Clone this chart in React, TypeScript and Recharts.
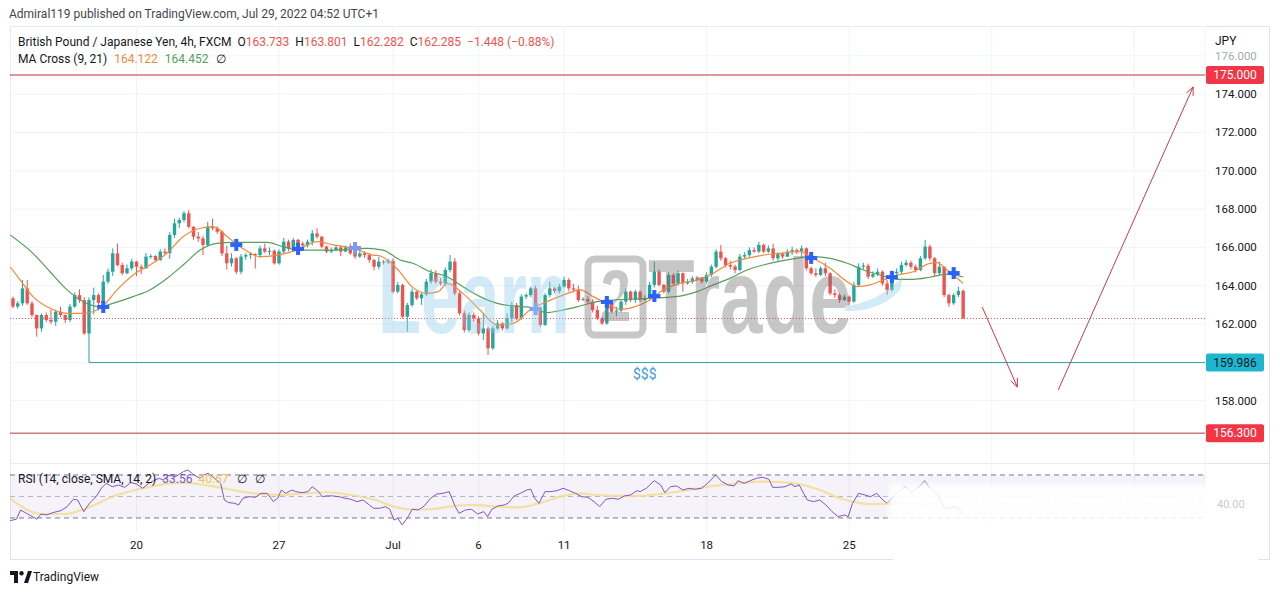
import { ComposedChart, Bar, Line, Scatter, XAxis, YAxis, CartesianGrid, ReferenceLine, ReferenceArea } from 'recharts';

const FONT = "Roboto, 'Liberation Sans', Arial, sans-serif";

// GBP/JPY 4h candles, one per slot (open = previous close)
const firstOpen = 163.34;
const closes = [
	162.91, 163.08, 163.86, 163.08, 162.47, 161.77, 162.47, 162.21, 162.12, 162.64,
	162.47, 162.21, 162.91, 163.51, 163.25, 161.51, 163.25, 163.51, 163.1, 164.21,
	164.73, 165.69, 165.08, 164.65, 164.91, 165.26, 164.99, 164.9, 165.52, 165.55,
	165.34, 165.78, 165.7, 166.65, 167.26, 167.43, 167.78, 167.08, 166.56, 166.47,
	166.13, 167.08, 167.0, 166.82, 165.69, 165.17, 165.43, 164.73, 165.52, 165.6,
	165.65, 165.6, 165.95, 165.78, 165.82, 165.17, 165.78, 166.3, 165.95, 166.39,
	166.2, 166.1, 166.3, 166.73, 166.56, 166.04, 165.78, 165.85, 166.0, 165.78,
	166.0, 165.69, 165.52, 165.69, 165.6, 165.34, 164.99, 165.26, 165.22, 165.3,
	163.69, 164.04, 162.38, 162.99, 163.69, 163.34, 163.55, 164.21, 164.65, 164.21,
	164.12, 164.82, 165.26, 163.6, 162.56, 161.69, 162.47, 162.3, 161.51, 161.77,
	160.73, 161.77, 162.03, 161.77, 162.3, 162.99, 162.3, 163.43, 163.51, 163.86,
	162.82, 161.95, 163.51, 163.86, 163.72, 163.95, 164.3, 163.86, 163.8, 163.25,
	163.3, 163.17, 162.73, 162.3, 162.03, 163.17, 162.64, 162.7, 163.17, 163.69,
	163.25, 163.69, 163.25, 163.35, 164.04, 164.73, 164.04, 163.69, 164.56, 164.12,
	164.65, 164.12, 164.2, 164.38, 164.35, 164.21, 164.56, 164.99, 165.78, 165.43,
	165.08, 165.0, 164.82, 165.52, 165.6, 165.86, 165.78, 166.13, 165.78, 165.95,
	165.43, 165.65, 165.52, 165.78, 165.86, 165.8, 165.95, 164.91, 164.65, 164.56,
	164.91, 164.65, 163.6, 163.51, 163.25, 163.43, 163.17, 164.04, 164.99, 165.05,
	164.47, 164.6, 164.73, 164.12, 163.78, 164.65, 164.73, 165.08, 165.2, 164.99,
	164.82, 165.43, 166.04, 165.43, 164.65, 164.99, 163.51, 163.08, 163.51, 163.73,
	162.285,
];
const highs = [
	163.43, 163.2, 164.3, 164.3, 163.2, 162.5, 162.55, 162.6, 162.75, 162.75,
	162.9, 162.5, 163.05, 163.65, 163.81, 163.4, 163.4, 163.9, 163.6, 164.56,
	164.9, 165.95, 166.21, 165.2, 165.1, 165.4, 165.3, 165.1, 165.7, 165.65,
	165.6, 165.9, 165.95, 166.8, 167.5, 167.55, 167.9, 167.95, 167.1, 166.8,
	166.6, 167.34, 167.5, 167.1, 166.9, 166.1, 165.7, 165.5, 165.65, 165.7,
	165.75, 165.7, 166.1, 166.2, 166.0, 165.9, 165.9, 166.5, 166.4, 166.5,
	166.45, 166.3, 166.4, 166.91, 167.0, 166.6, 166.1, 166.0, 166.1, 166.1,
	166.1, 166.2, 165.75, 165.8, 165.8, 165.7, 165.4, 165.5, 165.35, 165.4,
	165.43, 164.2, 164.1, 163.1, 163.85, 163.75, 163.65, 164.35, 164.85, 164.8,
	164.4, 164.95, 165.6, 165.45, 163.7, 162.7, 162.6, 162.6, 162.4, 162.56,
	161.85, 161.9, 162.2, 162.1, 162.56, 163.15, 163.1, 163.55, 163.6, 163.95,
	164.0, 162.9, 163.6, 164.2, 163.95, 164.1, 164.47, 164.4, 164.1, 164.0,
	163.4, 163.45, 163.3, 162.95, 162.4, 163.3, 163.2, 162.9, 163.3, 163.85,
	163.75, 163.8, 163.75, 163.5, 164.2, 165.26, 164.85, 164.1, 164.7, 164.65,
	164.8, 164.7, 164.35, 164.5, 164.5, 164.45, 164.7, 165.1, 165.9, 166.13,
	165.5, 165.3, 165.1, 165.65, 165.75, 166.0, 166.0, 166.3, 166.2, 166.1,
	166.2, 165.75, 165.75, 165.9, 166.04, 165.95, 166.1, 166.0, 165.0, 164.9,
	165.0, 165.2, 164.7, 163.8, 163.6, 163.55, 163.5, 164.2, 165.17, 165.2,
	165.15, 164.75, 164.9, 164.8, 164.3, 164.8, 164.9, 165.25, 165.35, 165.3,
	165.1, 165.55, 166.39, 166.15, 165.5, 165.26, 165.0, 163.6, 163.6, 163.95,
	163.801,
];
const lows = [
	162.82, 162.8, 162.95, 163.0, 162.35, 161.34, 161.6, 162.1, 162.0, 161.9,
	162.35, 162.05, 162.1, 162.85, 163.1, 161.43, 161.5, 162.5, 162.7, 162.9,
	164.1, 164.5, 165.0, 164.55, 164.6, 164.8, 164.5, 164.6, 164.9, 165.4,
	165.25, 165.3, 165.6, 165.4, 166.5, 167.0, 167.3, 167.0, 166.4, 166.3,
	165.6, 166.05, 166.9, 166.7, 165.55, 164.85, 165.0, 164.6, 164.6, 165.35,
	165.4, 164.9, 165.45, 165.7, 165.6, 165.1, 165.1, 165.7, 165.8, 165.85,
	166.0, 165.95, 166.0, 166.1, 166.45, 165.95, 165.7, 165.7, 165.8, 165.55,
	165.75, 165.6, 165.4, 165.45, 165.45, 165.2, 164.8, 164.85, 165.1, 165.15,
	163.6, 163.6, 162.3, 161.6, 162.9, 163.25, 163.0, 163.45, 164.1, 164.1,
	164.0, 164.0, 164.7, 163.5, 162.45, 161.55, 161.6, 162.1, 161.4, 161.16,
	160.38, 160.65, 161.7, 161.65, 161.7, 162.1, 162.2, 162.2, 163.3, 163.4,
	162.7, 161.85, 161.9, 163.4, 163.6, 163.6, 163.9, 163.7, 163.65, 163.15,
	163.2, 163.05, 162.6, 162.2, 161.95, 161.95, 162.55, 162.4, 162.6, 163.0,
	163.15, 163.1, 163.15, 163.2, 163.3, 163.9, 163.95, 163.6, 163.6, 164.0,
	164.0, 163.69, 164.05, 164.1, 164.25, 164.1, 164.1, 164.45, 164.9, 165.3,
	164.95, 164.85, 164.65, 164.75, 165.4, 165.5, 165.7, 165.7, 165.7, 165.7,
	165.3, 165.3, 165.4, 165.5, 165.6, 165.65, 165.5, 164.8, 164.55, 164.45,
	164.5, 164.5, 163.5, 163.35, 163.1, 163.2, 163.0, 163.1, 163.95, 164.85,
	164.35, 164.4, 164.5, 164.0, 163.51, 163.7, 164.55, 164.6, 165.0, 164.85,
	164.7, 164.75, 165.35, 165.3, 164.5, 164.55, 163.4, 162.9, 163.0, 163.4,
	162.282,
];

// MA Cross (9, 21) as [slot, value]
const ma9Points = [
	[-0.6, 164.99], [1.5, 164.3], [4.2, 163.43], [7.8, 162.82], [11.4, 162.56], [14.7, 162.56], [16.8, 162.64],
	[18.9, 162.94], [21.9, 163.78], [25.3, 164.56], [28.8, 165.08], [32.4, 165.69], [35.8, 166.56], [39.4, 167.0],
	[42.1, 167.08], [45.1, 166.56], [47.8, 166.04], [52, 165.52], [55.6, 165.6], [59.8, 165.86], [64, 166.3],
	[67.4, 166.13], [71.6, 165.95], [75.8, 165.6], [77.3, 165.55], [80.8, 164.9], [84.2, 163.9], [87.2, 163.6],
	[89.5, 163.69], [91.4, 164.12], [94.7, 163.6], [98.3, 162.73], [101.9, 161.95], [105.3, 162.03], [108.8, 162.73],
	[112.4, 163.17], [115.8, 163.51], [119.4, 163.78], [122.1, 163.43], [125, 163.08], [127.8, 162.77], [130.5, 162.87],
	[133.5, 163.17], [136.8, 163.78], [140.4, 164.12], [144, 164.3], [147.4, 164.65], [150.9, 165.17], [154.5, 165.43],
	[157.9, 165.6], [161.5, 165.69], [165.7, 165.78], [168.4, 165.43], [172, 164.91], [175.6, 164.21], [177.7, 163.95],
	[180.4, 164.04], [183.2, 164.3], [186.1, 164.56], [189.5, 164.73], [193, 165.17], [194.5, 165.2], [196.6, 164.82],
	[200, 164.122],
];
const ma21Points = [
	[-0.6, 166.65], [4.2, 165.69], [7.8, 164.73], [11.4, 163.78], [14.7, 163.17], [18.3, 162.9], [21, 163.08],
	[25.3, 163.43], [28.8, 163.78], [32.4, 164.38], [35.8, 165.08], [39.4, 165.86], [42.9, 166.21], [46.3, 166.26],
	[53.5, 166.26], [56.8, 166.04], [60.4, 165.86], [67.4, 165.86], [74.5, 165.95], [77.9, 165.86], [81.5, 165.34],
	[84.2, 165.17], [87.8, 164.73], [91.4, 164.47], [94.7, 163.95], [98.3, 163.43], [101.9, 163.08], [105.3, 162.94],
	[108.8, 162.87], [112.4, 162.6], [115.8, 162.73], [119.4, 162.94], [122.9, 163.17], [126.3, 163.25], [133.5, 163.34],
	[140.4, 163.46], [144, 163.69], [147.4, 164.04], [150.9, 164.38], [154.5, 164.82], [157.9, 165.08], [161.5, 165.28],
	[168.4, 165.52], [172, 165.43], [175.6, 165.17], [179, 164.82], [182.5, 164.56], [186.1, 164.33], [189.5, 164.33],
	[193, 164.44], [196.6, 164.6], [200, 164.452],
];
const crossPoints = [
	[19, 162.89], [47, 166.13], [60, 165.92], [72, 165.97], [110, 162.78],
	[125, 163.15], [135, 163.46], [168, 165.45], [185, 164.45], [198, 164.66],
];
const fadedCrosses = [72, 110];

// RSI (14) and its SMA (14)
const rsiPoints = [
	[-0.6, 27.5], [0.7, 28.8], [1.6, 37.4], [2.85, 34.3], [4.1, 31.2], [5, 28.8], [5.9, 33.7], [7.1, 32.8], [8.4, 35],
	[10.1, 36.8], [11.4, 40.5], [12.7, 47.4], [13.6, 46.7], [14.9, 35.9], [16.2, 44.3], [17.5, 49.8], [18.6, 57.6],
	[19.6, 62.2], [20.9, 59.1], [22.2, 60.7], [23.5, 58.5], [24.8, 62.9], [26, 61.6], [27.3, 57.6], [28.6, 62.2],
	[29.9, 65.3], [30.8, 66.9], [31.6, 65.3], [32.9, 70], [34.2, 68.4], [35.1, 70.9], [35.9, 73.1], [36.8, 74.7],
	[38.1, 70], [39.4, 66.9], [40.2, 70], [41.1, 71.6], [42.4, 66.9], [43.7, 62.2], [44.5, 46.7], [45.4, 44.3],
	[46.7, 43.6], [47.5, 42.1], [48.4, 48.3], [49.7, 49.8], [51, 49.2], [52.2, 52.9], [53.5, 52.9], [54.8, 45.2],
	[55.7, 48.3], [56.5, 56], [57.4, 52.9], [58.7, 56], [59.5, 54.5], [60.8, 53.6], [62.1, 54.5], [63, 59.1],
	[64.3, 54.5], [65.1, 49.8], [66, 50.5], [67.3, 50.5], [68.6, 49.8], [69.9, 48.3], [71.1, 47.4], [72.4, 45.2],
	[73.7, 46.7], [75, 42.1], [75.9, 39], [77.2, 39], [78.4, 40.5], [79.3, 38.1], [80.2, 28.1], [81, 29.7],
	[81.9, 23.5], [83.2, 31.2], [84, 38.1], [85.3, 37.4], [86.6, 41.2], [87.9, 48.3], [89.2, 52.3], [90.5, 52.9],
	[91.8, 54.5], [93.1, 40.5], [93.9, 34.3], [95.2, 37.4], [96.5, 38.1], [97.8, 33.7], [99.1, 35.9], [99.9, 31.2],
	[100.8, 38.1], [102.1, 41.2], [103.4, 42.1], [104.2, 43.6], [105.5, 50.5], [106.8, 52.9], [108.1, 56], [109, 56.7],
	[109.8, 48.3], [110.7, 43.6], [112, 54.5], [113.2, 54.5], [114.5, 55.4], [115.8, 57.6], [117.1, 55.4], [118.4, 52.9],
	[119.7, 49.8], [121, 49.2], [122.3, 45.2], [123.5, 40.5], [124.8, 47.4], [126.1, 48.3], [127.4, 47.4], [128.7, 50.5],
	[130, 51.4], [131.3, 55.4], [132, 54.5], [133.3, 57.6], [135, 64.7], [136.3, 60.7], [137.2, 53.6], [138.4, 59.1],
	[139.7, 59.8], [141, 56], [142.3, 57.6], [143.6, 56.7], [144.9, 57.6], [146.2, 62.2], [147.9, 70], [149.2, 63.8],
	[150.5, 60.7], [151.8, 59.8], [152.6, 64.7], [153.9, 62.2], [155.2, 64.7], [156.5, 66.9], [157.8, 67.8], [159.1, 66],
	[159.9, 58.5], [161.2, 58.5], [162.5, 59.1], [163.8, 61.6], [164.6, 59.1], [165.5, 60.7], [166.4, 52.9], [167.2, 46.7],
	[168.5, 45.2], [169.8, 46.7], [171.1, 42.1], [172.4, 35.9], [173.7, 31.2], [175, 32.8], [175.8, 31.2], [176.7, 43.6],
	[178, 52.9], [179.3, 51.4], [180.5, 49.8], [181.8, 52.9], [183.1, 46.7], [184, 43.6], [185.3, 49.8], [186.6, 55.4],
	[187.8, 59.1], [189.1, 54.5], [190.4, 57.6], [191.9, 64.7], [193, 57.6], [194.3, 52.9], [195.1, 48.3], [196, 39],
	[197.3, 39], [198.6, 40.5], [200, 33.56],
];
const rsiSmaPoints = [
	[-0.6, 48.3], [5.9, 33.7], [11, 33.7], [16.2, 40.5], [21.3, 50.5], [26.5, 56.7], [31.6, 61.3], [35.9, 62.9],
	[40.2, 60.7], [45.4, 56.7], [50.5, 52.9], [55.7, 51.4], [60.8, 52.9], [66, 53.9], [71.1, 51.4], [76.3, 46.7],
	[79.7, 41.2], [83.2, 38.1], [87.5, 38.1], [91.8, 40.5], [96.9, 42.1], [102.1, 40.5], [106.4, 39.9], [110.7, 43.6],
	[115.8, 50.5], [119.3, 52.9], [122.7, 51.4], [126.1, 50.5], [131.3, 50.5], [137.2, 52.9], [142.3, 56], [147.5, 59.8],
	[152.6, 62.2], [157.8, 63.8], [162.9, 62.9], [166.4, 60.7], [169.8, 56], [173.2, 49.8], [176.7, 45.2], [180.1, 43],
	[183.5, 43], [187, 43], [192.1, 42], [198.6, 40.5], [200, 40.67],
];

const dateTicks = [26, 56, 80, 98, 116, 146, 176, 206, 236];
const dateLabels = ['20', '27', 'Jul', '6', '11', '18', '25', 'Aug', '8'];
const priceTicks = [156, 158, 160, 162, 164, 166, 168, 170, 172, 174, 176];
const hiddenPriceTicks = [156, 160];

const candles = closes.map((c, i) => ({
	i,
	o: i === 0 ? firstOpen : closes[i - 1],
	h: highs[i],
	l: lows[i],
	c,
}));
const toXY = (pts: number[][]) => pts.map(([i, v]) => ({ i, v }));
const ma9 = toXY(ma9Points);
const ma21 = toXY(ma21Points);
const rsi = toXY(rsiPoints);
const rsiSma = toXY(rsiSmaPoints);
const crosses = crossPoints.map(([i, p]) => ({ i, p }));

const X_DOMAIN = [-0.63, 250.9];
const UP = '#26a69a';
const DOWN = '#ef5350';

const Candle = (props: any) => {
	const { x, y, width, height, payload } = props;
	if (!payload) return null;
	const { o, h, l, c } = payload;
	const top = Math.min(y, y + height);
	const bottom = Math.max(y, y + height);
	const k = h - l > 0 ? (bottom - top) / (h - l) : 0;
	const yO = top + (h - o) * k;
	const yC = top + (h - c) * k;
	const color = c >= o ? UP : DOWN;
	const cx = x + width / 2;
	const bw = 3.4;
	return (
		<g>
			<line x1={cx} x2={cx} y1={top} y2={bottom} stroke={color} strokeWidth={1} />
			<rect x={cx - bw / 2} y={Math.min(yO, yC)} width={bw} height={Math.max(1, Math.abs(yC - yO))} fill={color} />
		</g>
	);
};

const Cross = (props: any) => {
	const { cx, cy, payload } = props;
	const color = fadedCrosses.includes(payload.i) ? '#7f97ee' : '#2962ff';
	return (
		<g fill={color}>
			<rect x={cx - 6} y={cy - 2} width={12} height={4} />
			<rect x={cx - 2} y={cy - 6} width={4} height={12} />
		</g>
	);
};

const PriceTag = (props: any) => {
	const { viewBox, text, bg, fg } = props;
	const x = viewBox.x + viewBox.width;
	const y = viewBox.y;
	return (
		<g>
			<rect x={x + 1} y={y - 9} width={58} height={18} rx={2} fill={bg} />
			<text x={x + 30} y={y + 4} textAnchor='middle' fill={fg} fontSize={12}>
				{text}
			</text>
		</g>
	);
};

const Arrow = (props: any) => {
	const { x1, y1, x2, y2 } = props;
	const a = Math.atan2(y2 - y1, x2 - x1);
	const len = 9;
	const s = 0.42;
	const p1 = `${x2 - len * Math.cos(a - s)},${y2 - len * Math.sin(a - s)}`;
	const p2 = `${x2 - len * Math.cos(a + s)},${y2 - len * Math.sin(a + s)}`;
	return (
		<g stroke='#cc3a43' strokeWidth={1} fill='none'>
			<line x1={x1} y1={y1} x2={x2} y2={y2} />
			<polyline points={`${p1} ${x2},${y2} ${p2}`} />
		</g>
	);
};

const PriceTick = (props: any) => {
	const { x, y, payload } = props;
	if (hiddenPriceTicks.includes(payload.value)) return null;
	return (
		<text x={x} y={y} dy={4} fill={payload.value === 176 ? '#a7aab3' : '#131722'} fontSize={11.5} textAnchor='start'>
			{payload.value.toFixed(3)}
		</text>
	);
};

const txt = (style: any): any => ({ position: 'absolute', whiteSpace: 'nowrap', fontSize: 12, lineHeight: '14px', ...style });

const App = () => (
	<div style={{ position: 'absolute', left: 0, top: 0, width: 1280, height: 595, background: '#fff', fontFamily: FONT, color: '#131722', overflow: 'hidden' }}>
		<div style={txt({ left: 9, top: 7, color: '#434651' })}>Admiral119 published on TradingView.com, Jul 29, 2022 04:52 UTC+1</div>

		<div style={{ position: 'absolute', left: 10, top: 26, width: 1260, height: 534, border: '1px solid #e0e3eb', boxSizing: 'border-box' }} />
		<div style={{ position: 'absolute', left: 10, top: 463, width: 1260, height: 1, background: '#e0e3eb' }} />

		<div style={{ position: 'absolute', left: 10, top: 26 }}>
			<ComposedChart width={1258} height={438} data={candles} margin={{ top: 0, right: 0, bottom: 0, left: 0 }} style={{ fontFamily: FONT }}>
				<CartesianGrid stroke='#f0f3fa' />
				<XAxis dataKey='i' type='number' domain={X_DOMAIN} ticks={dateTicks} hide allowDataOverflow />
				<YAxis
					orientation='right'
					domain={[154.69, 177.56]}
					ticks={priceTicks}
					width={63}
					axisLine={false}
					tickLine={false}
					tickSize={0}
					tickMargin={10}
					tick={<PriceTick />}
					allowDataOverflow
				/>
				<ReferenceLine y={175} stroke='#b8333a' label={<PriceTag text='175.000' bg='#f23645' fg='#fff' />} />
				<ReferenceLine y={156.3} stroke='#b8333a' label={<PriceTag text='156.300' bg='#f23645' fg='#fff' />} />
				<ReferenceLine segment={[{ x: 16, y: 159.986 }, { x: 250.9, y: 159.986 }]} stroke='#2b9fa6' />
				<ReferenceLine segment={[{ x: 16, y: 161.58 }, { x: 16, y: 159.986 }]} stroke='#2b9fa6' />
				<ReferenceLine y={159.986} stroke='none' label={<PriceTag text='159.986' bg='#1cb7cf' fg='#131722' />} />
				<ReferenceLine y={162.285} stroke='#ef5350' strokeDasharray='1 2' />
				<Line data={ma21} dataKey='v' type='monotone' stroke='#56a05a' strokeWidth={1.2} dot={false} isAnimationActive={false} />
				<Line data={ma9} dataKey='v' type='monotone' stroke='#f08a3c' strokeWidth={1.2} dot={false} isAnimationActive={false} />
				<Bar dataKey={(d: any) => [d.l, d.h]} shape={<Candle />} barSize={4} isAnimationActive={false} />
				<Scatter data={crosses} dataKey='p' shape={<Cross />} isAnimationActive={false} />
				<ReferenceLine segment={[{ x: 204, y: 162.89 }, { x: 211.4, y: 158.71 }]} shape={<Arrow />} />
				<ReferenceLine segment={[{ x: 220, y: 158.55 }, { x: 248.4, y: 174.38 }]} shape={<Arrow />} />
			</ComposedChart>
		</div>

		<div style={{ position: 'absolute', left: 10, top: 464 }}>
			<ComposedChart width={1258} height={96} margin={{ top: 0, right: 63, bottom: 0, left: 0 }} style={{ fontFamily: FONT }}>
				<CartesianGrid stroke='#f0f3fa' horizontal={false} />
				<XAxis
					dataKey='i'
					type='number'
					domain={X_DOMAIN}
					ticks={dateTicks}
					tickFormatter={(v: number) => dateLabels[dateTicks.indexOf(v)]}
					height={27}
					axisLine={false}
					tickLine={false}
					tickSize={0}
					tickMargin={8}
					tick={{ fill: '#131722', fontSize: 11.5 }}
					allowDataOverflow
				/>
				<YAxis domain={[16, 80.2]} hide allowDataOverflow />
				<ReferenceArea y1={30} y2={70} fill='#7e57c2' fillOpacity={0.08} stroke='none' />
				<ReferenceLine y={70} stroke='#787b86' strokeDasharray='5 4' />
				<ReferenceLine y={50} stroke='#b2b5be' strokeDasharray='5 4' />
				<ReferenceLine y={30} stroke='#787b86' strokeDasharray='5 4' />
				<Line data={rsiSma} dataKey='v' type='monotone' stroke='#f3dc8c' strokeOpacity={0.8} strokeWidth={2.2} dot={false} isAnimationActive={false} />
				<Line data={rsi} dataKey='v' type='linear' stroke='#7e57c2' strokeWidth={1} dot={false} isAnimationActive={false} />
			</ComposedChart>
		</div>

		{/* Learn2Trade watermark */}
		<svg width={1280} height={595} style={{ position: 'absolute', left: 0, top: 0, pointerEvents: 'none' }}>
			<g opacity={0.38} fontFamily="'Liberation Sans', Arial, sans-serif" fontWeight={700}>
				<text transform='translate(378,333) scale(0.665,1)' fontSize={106} fill='#8ccbe9'>Learn</text>
				<rect x={588} y={259} width={55} height={76} rx={7} fill='none' stroke='#6f6f6f' strokeWidth={7} />
				<path d='M603 283 Q 604 270 616 270 Q 628 270 628 282 Q 628 292 615 303 L 606 312 H 629 V 321 H 602 V 313 L 617 298 Q 620 294 620 284 Q 620 278 616 278 Q 611 278 611 285 Z' fill='#6f6f6f' />
				<text transform='translate(648,333) scale(0.72,1)' fontSize={106} fill='#6f6f6f'>Trade</text>
				<path d='M845 306 Q 880 302 903 276 L 900 290 Q 880 312 845 311 Z' fill='#8ccbe9' />
			</g>
		</svg>

		<div style={txt({ left: 18, top: 35 })}>
			British Pound / Japanese Yen, 4h, FXCM
			<span style={{ marginLeft: 6 }}>O</span><span style={{ color: '#ef5350' }}>163.733</span>
			<span style={{ marginLeft: 6 }}>H</span><span style={{ color: '#ef5350' }}>163.801</span>
			<span style={{ marginLeft: 6 }}>L</span><span style={{ color: '#ef5350' }}>162.282</span>
			<span style={{ marginLeft: 6 }}>C</span><span style={{ color: '#ef5350' }}>162.285</span>
			<span style={{ marginLeft: 6, color: '#ef5350' }}>−1.448 (−0.88%)</span>
		</div>
		<div style={txt({ left: 18, top: 52 })}>
			MA Cross (9, 21)
			<span style={{ marginLeft: 7, color: '#f08a3c' }}>164.122</span>
			<span style={{ marginLeft: 7, color: '#56a05a' }}>164.452</span>
			<span style={{ marginLeft: 7 }}>∅</span>
		</div>
		<div style={txt({ left: 1215, top: 34 })}>JPY</div>
		<div style={txt({ left: 633, top: 366, fontSize: 14, lineHeight: '16px', color: '#3d98d6' })}>$$$</div>

		<div style={txt({ left: 18, top: 472 })}>
			RSI (14, close, SMA, 14, 2)
			<span style={{ marginLeft: 6, color: '#7e57c2' }}>33.56</span>
			<span style={{ marginLeft: 6, color: '#e9c84c' }}>40.67</span>
			<span style={{ marginLeft: 8 }}>∅</span>
			<span style={{ marginLeft: 8 }}>∅</span>
		</div>

		<div style={{ position: 'absolute', left: 893, top: 488, width: 365, height: 42, background: 'rgba(255,255,255,0.88)', boxShadow: '0 0 6px 4px rgba(255,255,255,0.85)' }} />
		<div style={{ position: 'absolute', left: 893, top: 530, width: 365, height: 36, background: '#fff' }} />
		<div style={txt({ left: 1217, top: 498, fontSize: 11, color: '#c9cbd1' })}>40.00</div>

		<svg width={22} height={12} style={{ position: 'absolute', left: 10, top: 571 }}>
			<path d='M0 0 H8 V12 H4 V4 H0 Z' fill='#131722' />
			<circle cx={11.5} cy={2.2} r={2.2} fill='#131722' />
			<path d='M14 12 L18 0 H22 L18 12 Z' fill='#131722' />
		</svg>
		<div style={txt({ left: 33, top: 570, fontSize: 12, lineHeight: '14px' })}>TradingView</div>
	</div>
);

export default App;
